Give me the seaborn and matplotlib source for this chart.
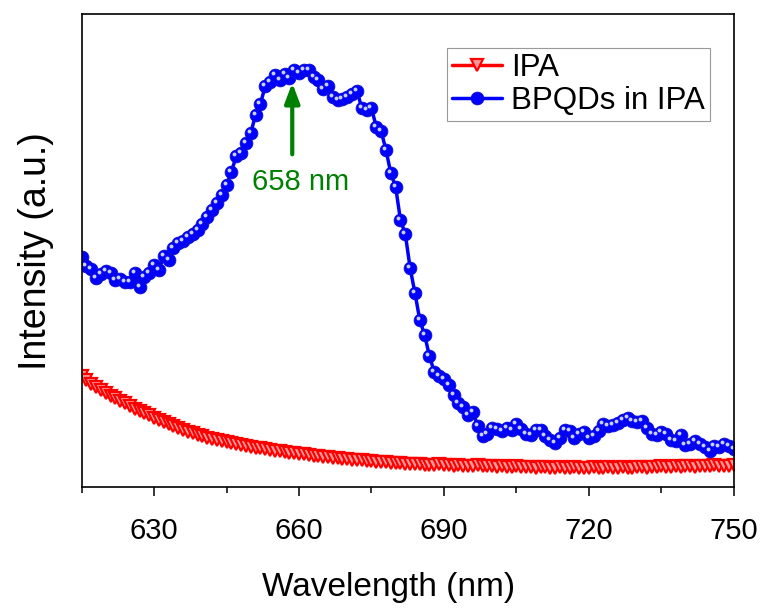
import numpy as np
import pandas as pd
import seaborn as sns
import matplotlib.pyplot as plt
from matplotlib.transforms import offset_copy

# wavelength grid (nm), one point per nm as in the measured spectra
wavelength = list(range(615, 751))

# PL intensity (a.u.) of the pure solvent
ipa = [111, 107, 103, 100, 97, 94, 91, 89, 86, 84,
       81, 78, 76, 74, 72, 69, 67, 65, 63, 61,
       59, 57, 55, 54, 52, 51, 49, 48, 47, 46,
       45, 44, 43, 42, 41, 40, 39, 39, 38, 37,
       36, 36, 35, 34, 34, 33, 33, 32, 31, 31,
       30, 30, 29, 29, 28, 28, 27, 27, 27, 26,
       26, 25, 25, 25, 24, 24, 24, 23, 23, 23,
       23, 22, 22, 22, 23, 22, 22, 21, 22, 21,
       21, 21, 22, 21, 21, 21, 20, 21, 20, 20,
       21, 20, 20, 20, 19, 20, 20, 19, 19, 20,
       19, 19, 20, 19, 19, 19, 20, 19, 19, 20,
       19, 19, 20, 19, 19, 20, 20, 19, 20, 20,
       21, 20, 20, 21, 20, 21, 21, 20, 21, 21,
       21, 22, 21, 21, 21, 22]

# PL intensity (a.u.) of black phosphorus quantum dots in IPA
bpqds = [230, 221, 218, 209, 213, 216, 214, 207, 208, 205,
         205, 214, 200, 210, 214, 222, 217, 231, 227, 239,
         244, 246, 250, 253, 257, 263, 270, 277, 284, 292,
         302, 315, 331, 334, 344, 354, 372, 383, 401, 405,
         412, 407, 413, 409, 417, 414, 417, 417, 410, 407,
         398, 401, 390, 387, 388, 390, 393, 396, 379, 377,
         379, 360, 356, 337, 314, 300, 267, 253, 219, 194,
         167, 152, 131, 115, 111, 108, 102, 92, 84, 80,
         72, 75, 61, 51, 53, 59, 58, 56, 59, 57,
         63, 58, 53, 52, 57, 57, 51, 47, 44, 49,
         57, 56, 49, 53, 55, 49, 51, 56, 63, 61,
         62, 64, 67, 69, 66, 65, 66, 59, 53, 52,
         55, 53, 47, 46, 52, 42, 43, 46, 43, 40,
         36, 41, 40, 43, 41, 38]

peak_nm = 658

df = pd.DataFrame({'wavelength': wavelength, 'IPA': ipa, 'BPQDs in IPA': bpqds})

sns.set_style('ticks')
plt.rcParams['font.family'] = ['Liberation Sans', 'DejaVu Sans']
plt.rcParams['text.color'] = 'black'
plt.rcParams['axes.labelcolor'] = 'black'
plt.rcParams['xtick.color'] = 'black'

fig = plt.figure(figsize=(7.7, 6.13), dpi=100)
ax = fig.add_axes([0.106, 0.2055, 0.847, 0.7715])

sns.lineplot(data=df, x='wavelength', y='IPA', ax=ax, color='red', lw=2.5,
             marker='v', markersize=8.5, mfc='#ff9a9a', mec='red', mew=1.6,
             label='IPA')
sns.lineplot(data=df, x='wavelength', y='BPQDs in IPA', ax=ax, color='blue', lw=2.5,
             marker='o', markersize=9.2, mfc='blue', mec='#1010d0', mew=0.6,
             label='BPQDs in IPA')
# little highlight on each ball
shine = offset_copy(ax.transData, fig=fig, x=-2, y=2, units='dots')
ax.plot(df['wavelength'], df['BPQDs in IPA'], ls='none', marker='o', ms=2.8,
        mfc='#c8d0ff', mec='none', transform=shine)

ax.annotate('', xy=(peak_nm + 0.6, 407), xytext=(peak_nm + 0.6, 330),
            arrowprops=dict(arrowstyle='-|>,head_length=1.2,head_width=0.45',
                            color='green', lw=3))
ax.text(peak_nm + 2.4, 305, '658 nm', color='green', fontsize=21,
        ha='center', va='center')

ax.set_xlim(615, 750)
ax.set_ylim(0, 473)
ax.set_xticks([630, 660, 690, 720, 750])
ax.set_xticks([615, 645, 675, 705, 735], minor=True)
ax.set_yticks([])
ax.tick_params(axis='x', which='major', direction='out', length=6.5, width=1.1,
               labelsize=21, color='black', pad=15)
ax.tick_params(axis='x', which='minor', direction='out', length=4, width=1.1)
for s in ax.spines.values():
    s.set_visible(True)
    s.set_linewidth(1.2)
    s.set_color('black')

ax.set_xlabel('Wavelength (nm)', fontsize=24)
ax.xaxis.set_label_coords(0.47, -0.18)
ax.set_ylabel('Intensity (a.u.)', fontsize=27, labelpad=20)

leg = ax.legend(loc='upper right', bbox_to_anchor=(0.963, 0.928), borderaxespad=0,
                fontsize=22.5, frameon=True, fancybox=False, framealpha=1,
                edgecolor='#999999', handlelength=1.6, handletextpad=0.3,
                borderpad=0.15, labelspacing=0.1)
leg.get_frame().set_linewidth(0.8)

plt.savefig('out.png', dpi=100)
